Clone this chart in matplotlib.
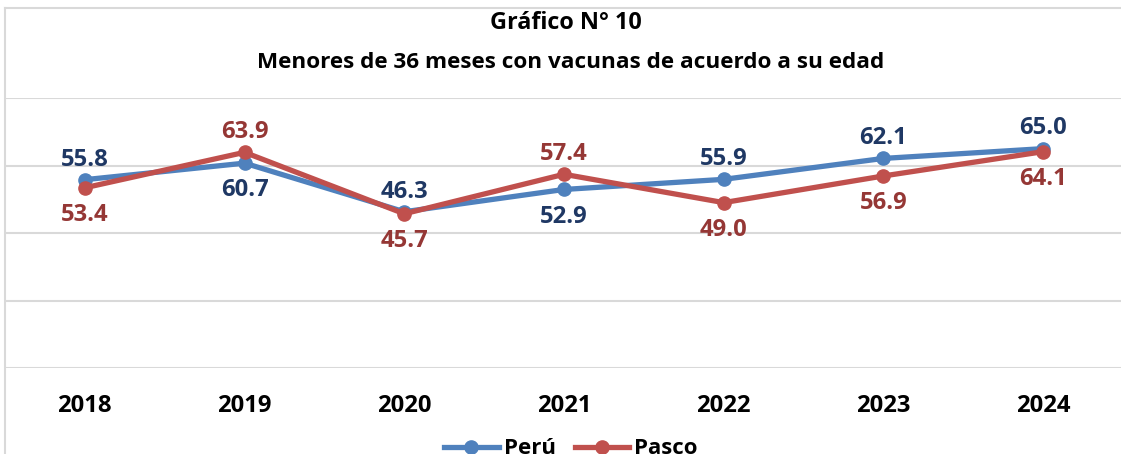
import matplotlib
matplotlib.use("Agg")
import matplotlib.pyplot as plt
from matplotlib.lines import Line2D

years = ["2018", "2019", "2020", "2021", "2022", "2023", "2024"]
peru = [55.8, 60.7, 46.3, 52.9, 55.9, 62.1, 65.0]
pasco = [53.4, 63.9, 45.7, 57.4, 49.0, 56.9, 64.1]
peru_label_pos = ["above", "below", "above", "below", "above", "above", "above"]
pasco_label_pos = ["below", "above", "below", "above", "below", "below", "below"]

title_line1 = "Gráfico N° 10"
title_line2 = "Menores de 36 meses con vacunas de acuerdo a su edad"

plt.rcParams['font.family'] = ['Open Sans', 'DejaVu Sans']

W, H = 1121, 454
fig = plt.figure(figsize=(W / 100, H / 100), dpi=100)
ax = fig.add_axes([5 / W, 86 / H, 1118 / W, 270 / H])

blue_line = "#4f81bd"
red_line = "#c0504d"
blue_txt = "#1f3864"
red_txt = "#953735"
grid_c = "#d9d9d9"

x = list(range(len(years)))
ax.plot(x, peru, color=blue_line, lw=3.8, marker="o", ms=9.5, zorder=3, solid_capstyle="round")
ax.plot(x, pasco, color=red_line, lw=3.8, marker="o", ms=9.5, zorder=4, solid_capstyle="round")

off_above = 14.5
off_below = 19.5
fs = 17.2
for vals, pos, col in ((peru, peru_label_pos, blue_txt), (pasco, pasco_label_pos, red_txt)):
    for xi, v, p in zip(x, vals, pos):
        ax.annotate(f"{v:.1f}", (xi, v), xytext=(0, off_above if p == "above" else -off_below),
                    textcoords="offset points", ha="center", va="center",
                    fontsize=fs, fontweight="bold", color=col, zorder=5)

ax.set_xlim(-0.5, len(years) - 0.5)
ax.set_ylim(0, 80)
ax.set_yticks([0, 20, 40, 60, 80])
ax.yaxis.grid(True, color=grid_c, lw=1.5)
ax.set_axisbelow(True)
ax.tick_params(axis="y", left=False, labelleft=False)
ax.set_xticks(x)
ax.set_xticklabels(years, fontsize=17.2, fontweight="bold", color="black")
ax.tick_params(axis="x", length=0, pad=19)
for s in ax.spines.values():
    s.set_visible(False)
ax.patch.set_alpha(0)

# chart border
fig.add_artist(Line2D([5 / W, 5 / W], [0, 1 - 8 / H], transform=fig.transFigure, color=grid_c, lw=1.5))
fig.add_artist(Line2D([5 / W, 1], [1 - 8 / H, 1 - 8 / H], transform=fig.transFigure, color=grid_c, lw=1.5))

fig.text(566 / W, 1 - 23 / H, title_line1, ha="center", va="center", fontsize=16.8,
         fontweight="bold", color="black")
fig.text(571 / W, 1 - 63 / H, title_line2, ha="center", va="center", fontsize=16.2,
         fontweight="bold", color="black")

handles = [Line2D([], [], color=blue_line, lw=3.8, marker="o", ms=9.5),
           Line2D([], [], color=red_line, lw=3.8, marker="o", ms=9.5)]
leg = fig.legend(handles, ["Perú", "Pasco"], loc="center", bbox_to_anchor=(571 / W, 1 - 449 / H),
                 ncol=2, frameon=False, handlelength=2.45, handletextpad=0.22, columnspacing=0.87,
                 prop={"size": 16, "weight": "bold"})

fig.savefig("out.png", dpi=100)
